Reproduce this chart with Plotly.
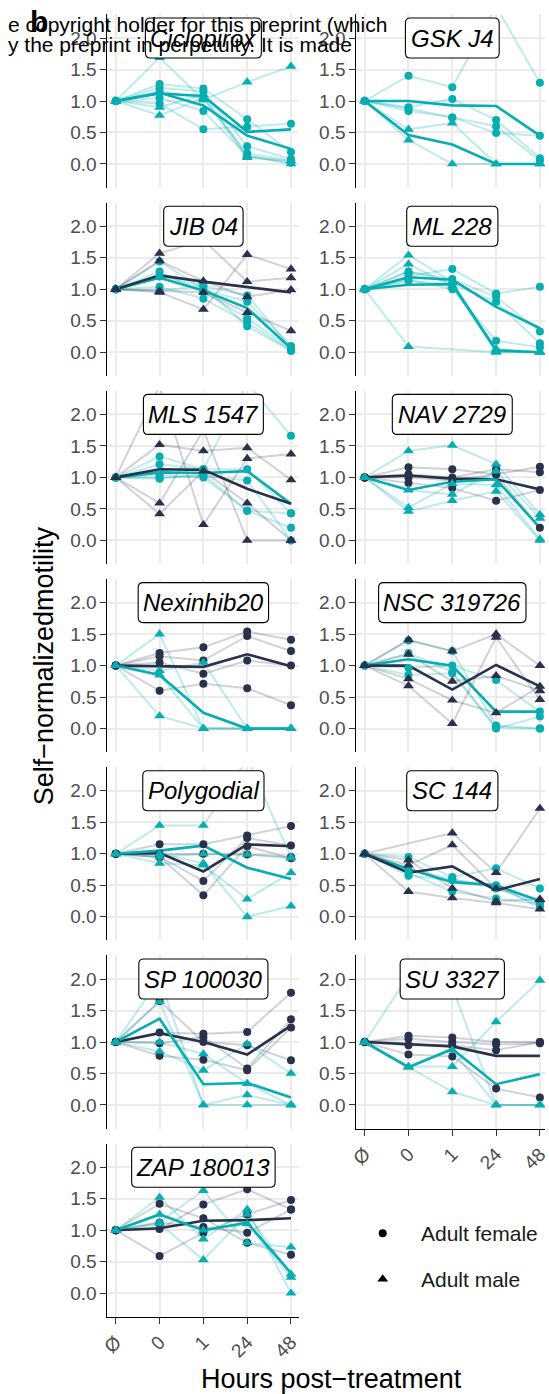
import plotly.graph_objects as go

# ---------------------------------------------------------------- data
hours = ["Ø", "0", "1", "24", "48"]

drugs = ["Ciclopirox", "GSK J4", "JIB 04", "ML 228", "MLS 1547", "NAV 2729",
         "Nexinhib20", "NSC 319726", "Polygodial", "SC 144", "SP 100030",
         "SU 3327", "ZAP 180013"]

# whether the sex group showed a motility loss (drawn in the highlight colour)
female_significant = [True, True, True, True, True, False, False, True,
                      False, True, False, False, False]
male_significant = [True, True, False, True, False, True, True, False,
                    True, False, True, True, True]

ciclopirox_female = [[1, 0.96, 0.55, 0.59, 0.64], [1, 1.27, 1.20, 0.71, 0.19],
                     [1, 1.21, 1.15, 0.28, 0.08], [1, 1.15, 1.04, 0.17, 0.05],
                     [1, 1.05, 0.84, 0.13, 0.02]]
ciclopirox_female_mean = [1, 1.13, 0.93, 0.45, 0.24]
ciclopirox_male = [[1, 1.69, 1.02, 1.30, 1.55], [1, 0.90, 1.10, 0.13, 0.00],
                   [1, 0.77, 1.05, 0.10, 0.05]]
ciclopirox_male_mean = [1, 1.12, 1.08, 0.51, 0.55]

gskj4_female = [[1, 1.40, 1.22, 2.50, 1.29], [1, 0.90, 1.03, 0.70, 0.09],
                [1, 0.84, 0.74, 0.60, 0.05], [1, 0.88, 0.74, 0.49, 0.45]]
gskj4_female_mean = [1, 1.00, 0.93, 0.92, 0.45]
gskj4_male = [[1, 0.55, 0.65, 0.00, 0.00], [1, 0.38, 0.00, 0.00, 0.00]]
gskj4_male_mean = [1, 0.46, 0.31, 0.00, 0.00]

jib04_female = [[1, 1.44, 1.00, 0.80, 0.10], [1, 1.28, 0.95, 0.54, 0.05],
                [1, 1.04, 0.85, 0.47, 0.03], [1, 0.98, 1.05, 0.41, 0.02],
                [1, 1.20, 1.05, 0.90, 0.08]]
jib04_female_mean = [1, 1.18, 0.98, 0.70, 0.06]
jib04_male = [[1, 1.57, 1.78, 1.12, 1.18], [1, 0.95, 0.68, 1.55, 1.32],
              [1, 1.45, 1.13, 0.88, 0.99], [1, 0.97, 0.95, 0.63, 0.34]]
jib04_male_mean = [1, 1.22, 1.12, 1.04, 0.95]

ml228_female = [[1, 1.21, 1.32, 0.93, 1.04], [1, 1.28, 1.16, 0.88, 0.33],
                [1, 1.13, 1.08, 0.80, 0.14], [1, 1.15, 1.00, 0.18, 0.08]]
ml228_female_mean = [1, 1.19, 1.15, 0.72, 0.38]
ml228_male = [[1, 1.54, 1.12, 0.05, 0.00], [1, 1.40, 1.05, 0.00, 0.00],
              [1, 0.09, None, 0.00, 0.00], [1, 1.28, 1.10, 0.02, 0.00]]
ml228_male_mean = [1, 1.07, 1.08, 0.03, 0.00]

mls1547_female = [[1, 1.33, 1.13, 1.13, 0.43], [1, 1.21, 1.13, 2.50, 1.66],
                  [1, 1.05, 1.00, 0.47, 0.20], [1, 1.00, 1.02, 0.95, 0.00],
                  [1, 0.98, 1.05, 0.47, 0.43]]
mls1547_female_mean = [1, 1.08, 1.07, 1.10, 0.58]
mls1547_male = [[1, 1.52, 1.42, 1.47, 0.96], [1, 2.45, 0.25, 1.30, 1.37],
                [1, 0.59, 1.75, 0.00, 0.00], [1, 0.42, 1.10, 0.59, 0.00]]
mls1547_male_mean = [1, 1.13, 1.12, 0.82, 0.58]

nav2729_female = [[1, 1.16, 1.13, 1.05, 1.17], [1, 1.05, 1.00, 1.13, 1.08],
                  [1, 0.91, 0.83, 0.63, 0.80], [1, 1.00, 0.95, 1.05, 0.20]]
nav2729_female_mean = [1, 1.03, 0.98, 0.97, 0.81]
nav2729_male = [[1, 1.42, 1.51, 1.21, 0.41], [1, 0.52, 0.90, 0.88, 0.02],
                [1, 0.46, 0.63, 0.78, 0.00], [1, 0.80, 0.73, 1.10, 0.35]]
nav2729_male_mean = [1, 0.80, 0.93, 0.97, 0.20]

nexinhib20_female = [[1, 1.20, 1.29, 1.54, 1.41], [1, 1.15, 1.08, 1.47, 1.23],
                     [1, 1.05, 0.87, 1.08, 1.00], [1, 0.60, 0.71, 0.64, 0.37]]
nexinhib20_female_mean = [1, 0.99, 0.98, 1.18, 0.99]
nexinhib20_male = [[1, 1.50, 0.00, 0.00, 0.00], [1, 0.92, 1.05, 0.00, 0.00],
                   [1, 0.85, 0.00, 0.00, 0.00], [1, 0.20, 0.00, 0.00, 0.00]]
nexinhib20_male_mean = [1, 0.85, 0.25, 0.00, 0.00]

nsc319726_female = [[1, 1.40, 1.23, 0.05, 0.00], [1, 0.96, 1.00, 0.77, 0.27],
                    [1, 0.85, 0.88, 0.00, 0.19], [1, 1.20, 0.90, 0.02, 0.00]]
nsc319726_female_mean = [1, 1.10, 1.00, 0.27, 0.27]
nsc319726_male = [[1, 1.41, 1.23, 1.50, 1.00], [1, 1.18, 0.75, 0.84, 0.60],
                  [1, 0.79, 0.45, 0.25, 0.67], [1, 0.68, 0.08, 1.45, 0.46]]
nsc319726_male_mean = [1, 1.00, 0.62, 1.01, 0.67]

polygodial_female = [[1, 1.15, 1.15, 1.29, 1.44], [1, 0.95, 0.57, 1.25, 1.13],
                     [1, 0.95, 0.34, 1.12, 0.93], [1, 1.00, 1.00, 0.99, 0.95]]
polygodial_female_mean = [1, 1.01, 0.72, 1.15, 1.12]
polygodial_male = [[1, 1.45, 1.45, 2.50, 0.95], [1, 0.85, 0.82, 0.28, 0.70],
                   [1, 1.00, 0.85, 0.00, 0.17], [1, 0.95, 1.00, 0.99, 0.93]]
polygodial_male_mean = [1, 1.05, 1.13, 0.78, 0.60]

sc144_female = [[1, 0.95, 0.63, 0.77, 0.45], [1, 0.65, 0.58, 0.50, 0.15],
                [1, 0.70, 0.40, 0.29, 0.20], [1, 0.75, 0.60, 0.45, 0.20]]
sc144_female_mean = [1, 0.76, 0.55, 0.50, 0.25]
sc144_male = [[1, None, 1.33, 0.70, 1.72], [1, 0.82, 1.14, 0.45, 0.27],
              [1, 0.40, 0.30, 0.22, 0.12], [1, 0.90, 0.45, 0.25, 0.28]]
sc144_male_mean = [1, 0.70, 0.80, 0.42, 0.60]

sp100030_female = [[1, 1.15, 1.13, 1.16, 1.78], [1, 0.98, 1.08, 0.58, 1.36],
                   [1, 0.78, 0.72, 0.55, 1.23], [1, 1.65, 1.00, 0.95, 0.71]]
sp100030_female_mean = [1, 1.14, 1.00, 0.80, 1.26]
sp100030_male = [[1, 1.64, 0.00, 0.00, 0.00], [1, 1.00, 0.81, 0.34, 0.00],
                 [1, 0.85, 0.55, 0.97, 0.50], [1, 2.00, 0.00, 0.16, 0.00]]
sp100030_male_mean = [1, 1.37, 0.33, 0.35, 0.12]

su3327_female = [[1, 1.10, 1.07, 1.00, 1.00], [1, 1.05, 1.00, 0.96, 0.98],
                 [1, 0.95, 0.95, 0.87, 1.00], [1, 0.80, 0.77, 0.26, 0.12]]
su3327_female_mean = [1, 0.96, 0.93, 0.78, 0.78]
su3327_male = [[1, 2.05, 1.87, 0.00, 0.00], [1, 0.61, 0.61, 1.32, 1.98],
               [1, 0.60, 0.87, 0.00, 0.00], [1, 0.60, 0.21, 0.00, 0.00]]
su3327_male_mean = [1, 0.60, 0.89, 0.33, 0.49]

zap180013_female = [[1, 1.42, 1.19, 0.80, 0.61], [1, 1.02, 1.41, 1.65, 1.33],
                    [1, 0.59, 0.96, 1.25, 1.48], [1, 1.12, 1.05, 0.96, 1.33]]
zap180013_female_mean = [1, 1.03, 1.15, 1.16, 1.19]
zap180013_male = [[1, 1.52, 0.86, 1.33, 0.00], [1, 1.13, 1.63, 0.80, 0.73],
                  [1, 1.10, 0.53, 1.25, 0.30], [1, 1.25, 1.00, 1.10, 0.25]]
zap180013_male_mean = [1, 1.25, 1.00, 1.12, 0.32]

y_ticks = [0, 0.5, 1.0, 1.5, 2.0]
y_tick_labels = ["0.0", "0.5", "1.0", "1.5", "2.0"]
legend_labels = ["Adult female", "Adult male"]

panel_data = [
    (ciclopirox_female, ciclopirox_female_mean, ciclopirox_male, ciclopirox_male_mean),
    (gskj4_female, gskj4_female_mean, gskj4_male, gskj4_male_mean),
    (jib04_female, jib04_female_mean, jib04_male, jib04_male_mean),
    (ml228_female, ml228_female_mean, ml228_male, ml228_male_mean),
    (mls1547_female, mls1547_female_mean, mls1547_male, mls1547_male_mean),
    (nav2729_female, nav2729_female_mean, nav2729_male, nav2729_male_mean),
    (nexinhib20_female, nexinhib20_female_mean, nexinhib20_male, nexinhib20_male_mean),
    (nsc319726_female, nsc319726_female_mean, nsc319726_male, nsc319726_male_mean),
    (polygodial_female, polygodial_female_mean, polygodial_male, polygodial_male_mean),
    (sc144_female, sc144_female_mean, sc144_male, sc144_male_mean),
    (sp100030_female, sp100030_female_mean, sp100030_male, sp100030_male_mean),
    (su3327_female, su3327_female_mean, su3327_male, su3327_male_mean),
    (zap180013_female, zap180013_female_mean, zap180013_male, zap180013_male_mean),
]

# ---------------------------------------------------------------- style
W, H = 549, 1394
FONT = "Liberation Sans, Arial, Helvetica, sans-serif"
TEAL, TEAL_LIGHT = "#06ADB1", "rgba(6,173,177,0.26)"
NAVY, NAVY_LIGHT = "#29314B", "rgba(41,49,75,0.22)"
GRID = "#EBEBEB"
TICK_GREY = "#4D4D4D"
SYMBOLS = {"female": ("circle", 8), "male": ("triangle-up", 9.5)}

COL_X = [(102.5, 298.3), (356.5, 549.0)]   # panel left/right edges, px
STEP = 44.7                                 # px per time point
PAD = 0.19                                  # category padding
ROW_TOP, ROW_PITCH, PANEL_H = 14.4, 188.2, 173.2
Y_RANGE = [-0.375, 2.375]

# facet label boxes
STRIP_SIZE = 24
STRIP_PAD_X, STRIP_H, STRIP_R = 6.5, 40, 5
STRIP_X_CAT, STRIP_Y = 2, 2.0

# advance widths (1/1000 em) of the sans face used for the panel labels
ADVANCE = {" ": 278, "A": 667, "B": 667, "C": 722, "G": 778, "I": 278,
           "J": 500, "K": 667, "L": 556, "M": 833, "N": 722, "P": 667,
           "S": 667, "U": 722, "V": 667, "Z": 611, "a": 556, "b": 556,
           "c": 500, "d": 556, "e": 556, "g": 556, "h": 556, "i": 222,
           "l": 222, "n": 556, "o": 556, "p": 556, "r": 333, "s": 500,
           "x": 500, "y": 500}


def text_width(s, size):
    return sum(ADVANCE.get(ch, 556) for ch in s) / 1000 * size


def fx(p):
    return p / W


def fy(p):
    return 1 - p / H


def rounded_box(cx, cy, w, h, r):
    """Closed SVG path (paper coords) of a rounded rectangle given in px."""
    l, rt, t, b = cx - w / 2, cx + w / 2, cy - h / 2, cy + h / 2
    pts = [("M", [(l + r, t)]), ("L", [(rt - r, t)]),
           ("Q", [(rt, t), (rt, t + r)]), ("L", [(rt, b - r)]),
           ("Q", [(rt, b), (rt - r, b)]), ("L", [(l + r, b)]),
           ("Q", [(l, b), (l, b - r)]), ("L", [(l, t + r)]),
           ("Q", [(l, t), (l + r, t)])]
    out = []
    for cmd, coords in pts:
        out.append(cmd + " ".join(f"{fx(x):.5f},{fy(y):.5f}" for x, y in coords))
    return " ".join(out) + " Z"


fig = go.Figure()
layout = {}
annotations = []
shapes = []

for i, drug in enumerate(drugs):
    row, col = divmod(i, 2)
    n = i + 1
    sfx = "" if n == 1 else str(n)
    xa, ya = "x" + sfx, "y" + sfx
    x0, x1 = COL_X[col]
    top = ROW_TOP + row * ROW_PITCH
    bottom = top + PANEL_H
    is_bottom = i + 2 >= len(drugs)

    layout["xaxis" + sfx] = dict(
        domain=[fx(x0), fx(x1)], anchor=ya, type="category",
        categoryorder="array", categoryarray=hours,
        range=[-PAD, -PAD + (x1 - x0) / STEP],
        showgrid=True, gridcolor=GRID, gridwidth=1.8, zeroline=False,
        showline=is_bottom, linecolor="#000", linewidth=1.1,
        ticks="outside" if is_bottom else "", ticklen=6, tickwidth=1.1,
        tickcolor="#333", showticklabels=is_bottom, tickangle=-45,
        tickfont=dict(family=FONT, size=19, color=TICK_GREY),
    )
    layout["yaxis" + sfx] = dict(
        domain=[fy(bottom), fy(top)], anchor=xa, range=Y_RANGE,
        tickvals=y_ticks, ticktext=y_tick_labels,
        showgrid=True, gridcolor=GRID, gridwidth=1.8, zeroline=False,
        showline=True, linecolor="#000", linewidth=1.1,
        ticks="outside", ticklen=6, tickwidth=1.1, tickcolor="#333",
        tickfont=dict(family=FONT, size=19, color=TICK_GREY),
    )

    fem, fem_mean, mal, mal_mean = panel_data[i]
    groups = [("female", fem, fem_mean, female_significant[i]),
              ("male", mal, mal_mean, male_significant[i])]

    # individual worms
    for sex, lines, _, sig in groups:
        for vals in lines:
            fig.add_trace(go.Scatter(
                x=hours, y=vals, mode="lines", connectgaps=True,
                line=dict(color=TEAL_LIGHT if sig else NAVY_LIGHT, width=2),
                xaxis=xa, yaxis=ya, showlegend=False, hoverinfo="skip"))
    # group means
    for sex, _, mean, sig in groups:
        fig.add_trace(go.Scatter(
            x=hours, y=mean, mode="lines",
            line=dict(color=TEAL if sig else NAVY, width=2.6),
            xaxis=xa, yaxis=ya, showlegend=False, hoverinfo="skip"))
    # observations
    for sex, lines, _, sig in groups:
        xs, ys = [], []
        for vals in lines:
            for h, v in zip(hours, vals):
                if v is not None:
                    xs.append(h)
                    ys.append(v)
        sym, size = SYMBOLS[sex]
        fig.add_trace(go.Scatter(
            x=xs, y=ys, mode="markers",
            marker=dict(symbol=sym, size=size, color=TEAL if sig else NAVY,
                        line=dict(width=0)),
            xaxis=xa, yaxis=ya, showlegend=False, hoverinfo="skip"))

    # facet label: rounded white box with the drug name
    cx = x0 + (STRIP_X_CAT + PAD) * STEP
    cy = top + (Y_RANGE[1] - STRIP_Y) * PANEL_H / (Y_RANGE[1] - Y_RANGE[0])
    bw = text_width(drug, STRIP_SIZE) + 2 * STRIP_PAD_X
    shapes.append(dict(type="path", xref="paper", yref="paper",
                       path=rounded_box(cx, cy, bw, STRIP_H, STRIP_R),
                       fillcolor="#fff", line=dict(color="#000", width=1.1),
                       layer="above"))
    annotations.append(dict(
        x=STRIP_X_CAT, y=STRIP_Y, xref=xa, yref=ya, text=drug, showarrow=False,
        font=dict(family=FONT, size=STRIP_SIZE, color="#000", style="italic"),
        xanchor="center", yanchor="middle"))

# ---------------------------------------------------------------- key
LEG_X0, LEG_X1, LEG_Y0, LEG_Y1 = 360, 549, 1200, 1310
KEY_X, KEY_Y, KEY_DY, KEY_TEXT_X = 383.4, 1233.3, 45.7, 420
layout["xaxis14"] = dict(domain=[fx(LEG_X0), fx(LEG_X1)], range=[LEG_X0, LEG_X1],
                         anchor="y14", visible=False)
layout["yaxis14"] = dict(domain=[fy(LEG_Y1), fy(LEG_Y0)], range=[LEG_Y1, LEG_Y0],
                         anchor="x14", visible=False)
for k, (label, sex) in enumerate(zip(legend_labels, ["female", "male"])):
    sym, size = SYMBOLS[sex]
    yk = KEY_Y + k * KEY_DY
    fig.add_trace(go.Scatter(
        x=[KEY_X], y=[yk], mode="markers",
        marker=dict(symbol=sym, size=size, color="#000", line=dict(width=0)),
        xaxis="x14", yaxis="y14", showlegend=False, hoverinfo="skip"))
    annotations.append(dict(
        x=KEY_TEXT_X, y=yk, xref="x14", yref="y14", text=label,
        showarrow=False, xanchor="left", yanchor="middle",
        font=dict(family=FONT, size=21, color="#1A1A1A")))

# ---------------------------------------------------------------- titles
annotations.append(dict(
    x=fx(37.5), y=fy(665.5), xref="paper", yref="paper",
    text="Self−normalizedmotility", textangle=-90, showarrow=False,
    xanchor="center", yanchor="middle",
    font=dict(family=FONT, size=27, color="#000")))
annotations.append(dict(
    x=fx(331), y=fy(1379), xref="paper", yref="paper",
    text="Hours post−treatment", showarrow=False,
    xanchor="center", yanchor="middle",
    font=dict(family=FONT, size=27, color="#000")))

# page header text and panel letter
annotations.append(dict(
    x=fx(-1), y=fy(24.5), xref="paper", yref="paper",
    text="e copyright holder for this preprint (which", showarrow=False,
    xanchor="left", yanchor="middle",
    font=dict(family=FONT, size=21, color="#000")))
annotations.append(dict(
    x=fx(-1), y=fy(44.5), xref="paper", yref="paper",
    text="y the preprint in perpetuity. It is made", showarrow=False,
    xanchor="left", yanchor="middle",
    font=dict(family=FONT, size=21, color="#000")))
annotations.append(dict(
    x=fx(21), y=fy(22), xref="paper", yref="paper",
    text="<b>b</b>", showarrow=False, xanchor="left", yanchor="middle",
    font=dict(family=FONT, size=30, color="#000")))

fig.update_layout(
    width=W, height=H, autosize=False,
    margin=dict(l=0, r=0, t=0, b=0),
    paper_bgcolor="#fff", plot_bgcolor="#fff",
    showlegend=False, annotations=annotations, shapes=shapes, **layout)

fig.write_html("out.html")
